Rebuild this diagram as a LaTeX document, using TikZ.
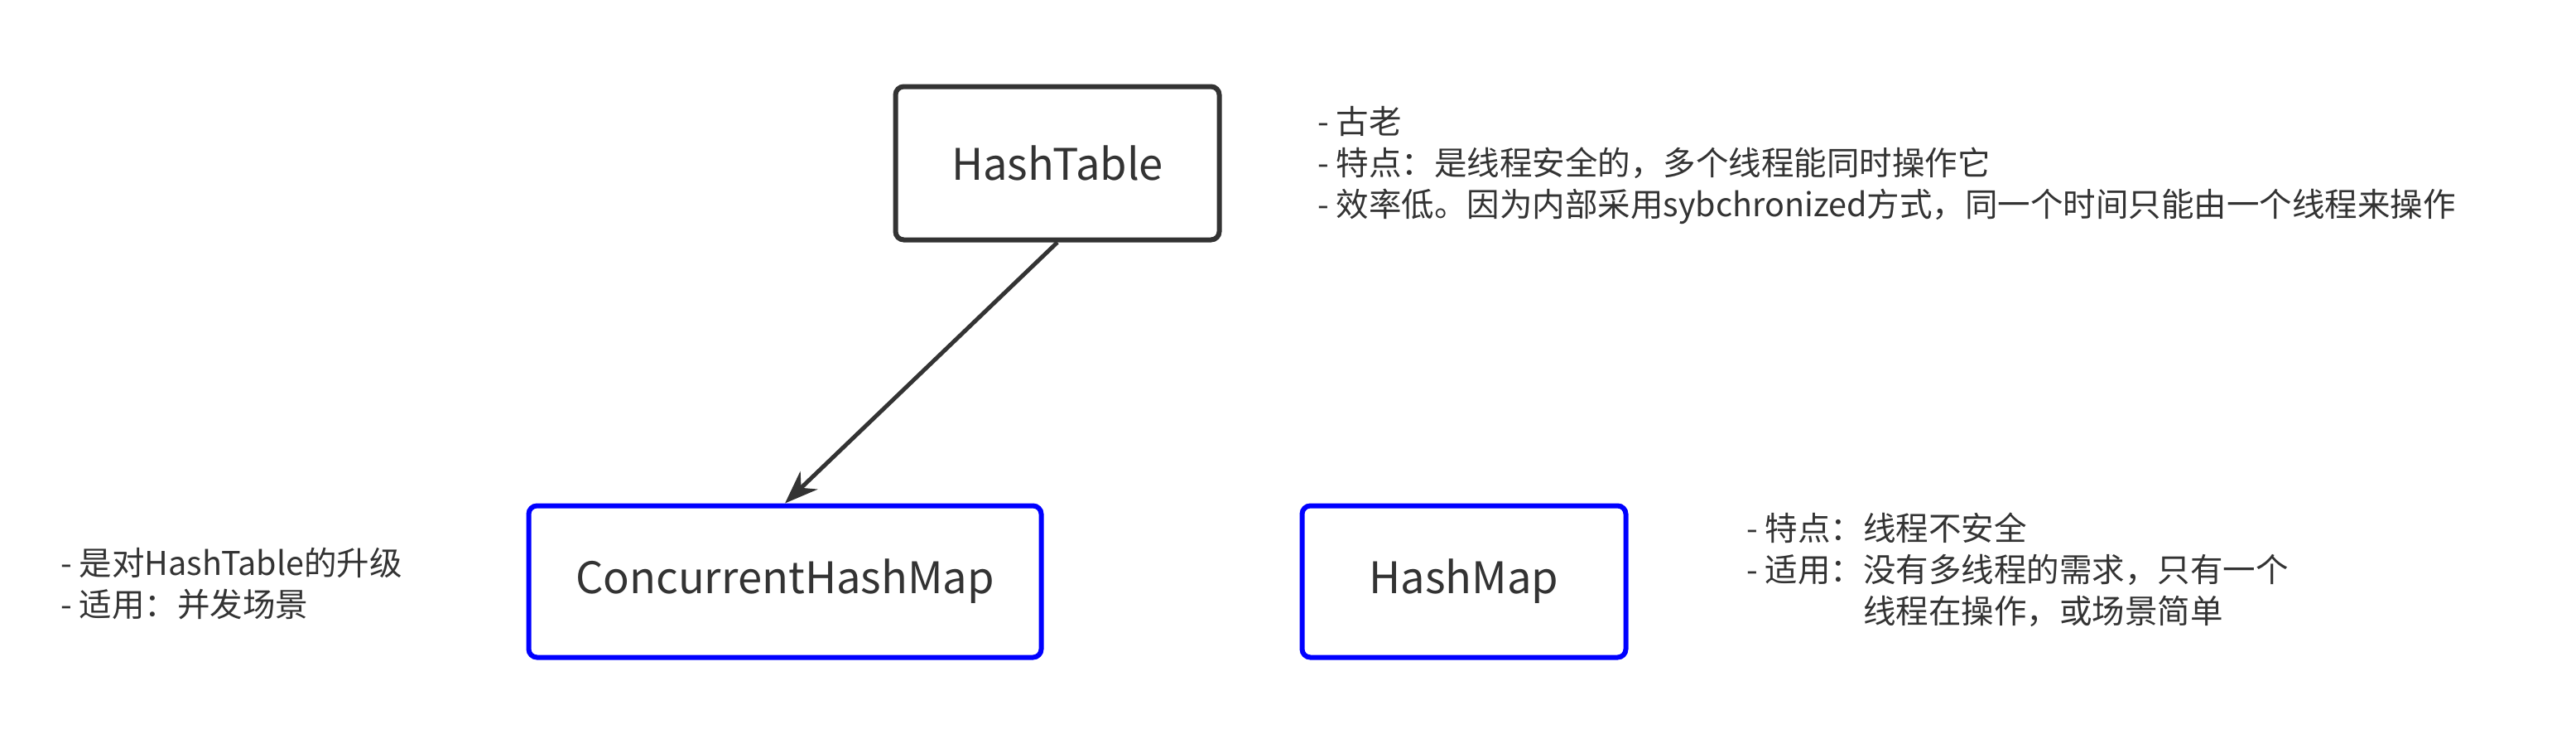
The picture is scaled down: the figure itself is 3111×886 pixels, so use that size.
\documentclass[tikz,border=0pt]{standalone}
\usepackage{fontspec}
\setmainfont{Noto Sans CJK SC}
\usetikzlibrary{arrows.meta}
\definecolor{txt}{HTML}{333333}
\definecolor{bluebox}{HTML}{0000FF}
\begin{document}
\begin{tikzpicture}[x=1pt,y=-1pt,
  box/.style={draw=#1, line width=6pt, rounded corners=10pt, text=txt,
    font=\fontsize{52.5}{60}\selectfont, inner sep=0pt},
  note/.style={anchor=west, align=left, text=txt,
    font=\fontsize{39.5}{50}\selectfont, inner sep=0pt},
  conn/.style={draw=txt, line width=5pt, -{Stealth[length=40pt,width=30pt]}}]
\useasboundingbox (0,0) rectangle (3111,886);
\fill[white] (0,0) rectangle (3111,886);

\node[box=txt, minimum width=391pt, minimum height=185pt] (ht) at (1277,197) {HashTable};
\node[box=bluebox, minimum width=619pt, minimum height=183pt] (chm) at (948,702) {ConcurrentHashMap};
\node[box=bluebox, minimum width=391pt, minimum height=183pt] (hm) at (1768,702) {HashMap};

\draw[conn] (ht.south) -- (chm.north);

\node[note] (htn) at (1591,200) {- 古老\\- 特点：是线程安全的，多个线程能同时操作它\\- 效率低。因为内部采用sybchronized方式，同一个时间只能由一个线程来操作};
\node[note] (chmn) at (73,705) {- 是对HashTable的升级\\- 适用：并发场景};
\node[note] (hmn) at (2109,688) {- 特点：线程不安全\\- 适用：没有多线程的需求，只有一个\\\phantom{- 适用：}线程在操作，或场景简单};
\end{tikzpicture}
\end{document}
